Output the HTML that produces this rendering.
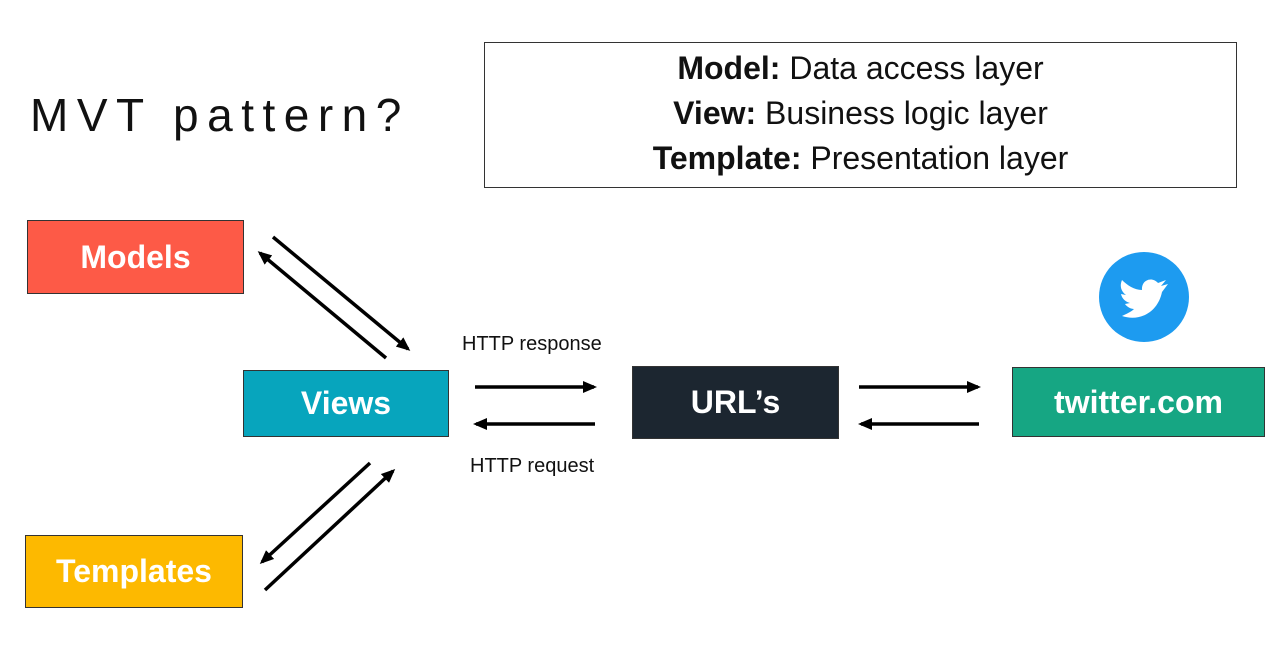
<!DOCTYPE html>
<html><head><meta charset="utf-8"><style>
body{margin:0;width:1274px;height:653px;background:#fff;position:relative;overflow:hidden;font-family:"Liberation Sans",sans-serif}
.b{position:absolute;color:#fff;font-weight:bold;display:flex;align-items:center;justify-content:center;box-sizing:border-box;border:1.5px solid #333}
.t{position:absolute;white-space:nowrap}
</style></head><body>
<div class="t" style="left:30px;top:88px;font-size:46px;letter-spacing:8.5px;font-weight:300;color:#111">MVT pattern?</div>
<div style="position:absolute;left:484px;top:42px;width:753px;height:146px;border:1.5px solid #333;box-sizing:border-box;text-align:center;font-size:32px;line-height:45px;padding-top:3px;color:#111">
<div><b>Model:</b> Data access layer</div>
<div><b>View:</b> Business logic layer</div>
<div><b>Template:</b> Presentation layer</div>
</div>
<div class="b" style="left:27px;top:220px;width:217px;height:74px;background:#fd5a47;font-size:32px">Models</div>
<div class="b" style="left:243px;top:370px;width:206px;height:67px;background:#07a5bd;font-size:32px">Views</div>
<div class="b" style="left:25px;top:535px;width:218px;height:73px;background:#fdb900;font-size:32px">Templates</div>
<div class="b" style="left:632px;top:366px;width:207px;height:73px;background:#1c2630;font-size:32px">URL’s</div>
<div class="b" style="left:1012px;top:367px;width:253px;height:70px;background:#16a683;font-size:32px">twitter.com</div>
<div class="t" style="left:462px;top:333px;font-size:20px;color:#111">HTTP response</div>
<div class="t" style="left:470px;top:455px;font-size:20px;color:#111">HTTP request</div>
<svg width="1274" height="653" style="position:absolute;left:0;top:0">
<defs><marker id="a" markerWidth="14" markerHeight="12" refX="11" refY="6" orient="auto" markerUnits="userSpaceOnUse"><path d="M0,0 L14,6 L0,12 z" fill="#000"/></marker></defs>
<g stroke="#000" stroke-width="3.5" marker-end="url(#a)">
<line x1="273" y1="237" x2="408" y2="349"/>
<line x1="386" y1="358" x2="260" y2="253"/>
<line x1="370" y1="463" x2="262" y2="562"/>
<line x1="265" y1="590" x2="393" y2="471"/>
<line x1="475" y1="387" x2="594" y2="387"/>
<line x1="595" y1="424" x2="476" y2="424"/>
<line x1="859" y1="387" x2="978" y2="387"/>
<line x1="979" y1="424" x2="861" y2="424"/>
</g>
<ellipse cx="1144" cy="297" rx="45" ry="45" fill="#1d9bf0"/>
<path d="M1122,316 C1140,322 1158,312 1162,292 L1168,284 L1161,286 L1166,280 L1158,283 C1152,276 1141,280 1142,290 C1134,290 1127,285 1122,280 C1119,287 1122,292 1126,295 L1121,294 C1122,299 1126,302 1130,303 L1125,304 C1127,307 1131,309 1134,309 C1131,312 1126,314 1122,316 z" fill="#fff"/>
</svg>
</body></html>
